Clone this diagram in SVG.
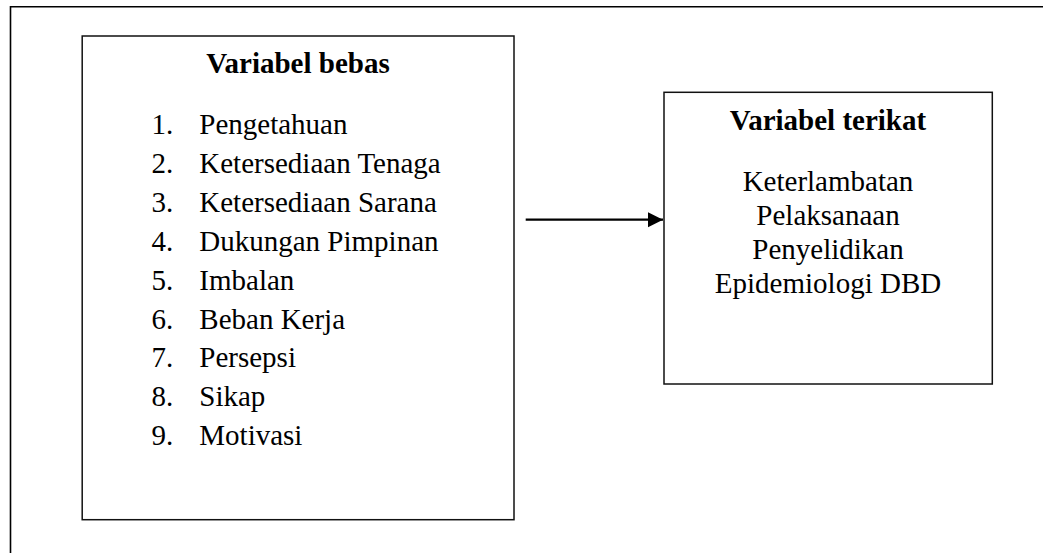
<svg xmlns="http://www.w3.org/2000/svg" width="1043" height="553" viewBox="0 0 1043 553">
<defs>
<style>
.box{fill:none;stroke:#111;stroke-width:1.5}
.frame{fill:none;stroke:#000;stroke-width:1.6}
.t{font-family:"Liberation Serif","Times New Roman",serif;font-size:29px;fill:#000}
.b{font-weight:bold}
.c{text-anchor:middle}
.conn{stroke:#000;stroke-width:2.2;fill:none}
</style>
<marker id="ah" markerUnits="userSpaceOnUse" markerWidth="16" markerHeight="16" refX="15" refY="8" orient="auto">
<path d="M0,0.5 L15,8 L0,15.5 Z" fill="#000"/>
</marker>
</defs>
<rect width="1043" height="553" fill="#fff"/>
<g id="frame">
<path class="frame" d="M10.5,553 V6.7 H1043"/>
</g>
<g id="node-bebas">
<rect class="box" x="82.2" y="36" width="431.8" height="483.7"/>
<text class="t b c" x="298" y="73.3">Variabel bebas</text>
<text class="t" x="151.5" y="134">1.</text><text class="t" x="199.3" y="134">Pengetahuan</text>
<text class="t" x="151.5" y="172.9">2.</text><text class="t" x="199.3" y="172.9">Ketersediaan Tenaga</text>
<text class="t" x="151.5" y="211.8">3.</text><text class="t" x="199.3" y="211.8">Ketersediaan Sarana</text>
<text class="t" x="151.5" y="250.7">4.</text><text class="t" x="199.3" y="250.7">Dukungan Pimpinan</text>
<text class="t" x="151.5" y="289.6">5.</text><text class="t" x="199.3" y="289.6">Imbalan</text>
<text class="t" x="151.5" y="328.5">6.</text><text class="t" x="199.3" y="328.5">Beban Kerja</text>
<text class="t" x="151.5" y="367.4">7.</text><text class="t" x="199.3" y="367.4">Persepsi</text>
<text class="t" x="151.5" y="406.3">8.</text><text class="t" x="199.3" y="406.3">Sikap</text>
<text class="t" x="151.5" y="445.2">9.</text><text class="t" x="199.3" y="445.2">Motivasi</text>
</g>
<g id="node-terikat">
<rect class="box" x="664" y="92.3" width="328.3" height="291.7"/>
<text class="t b c" x="828" y="130">Variabel terikat</text>
<text class="t c" x="828" y="190.5">Keterlambatan</text>
<text class="t c" x="828" y="224.5">Pelaksanaan</text>
<text class="t c" x="828" y="258.5">Penyelidikan</text>
<text class="t c" x="828" y="292.5">Epidemiologi DBD</text>
</g>
<g id="connectors">
<line class="conn" x1="525.7" y1="219.7" x2="663" y2="219.7" marker-end="url(#ah)"/>
</g>
</svg>
